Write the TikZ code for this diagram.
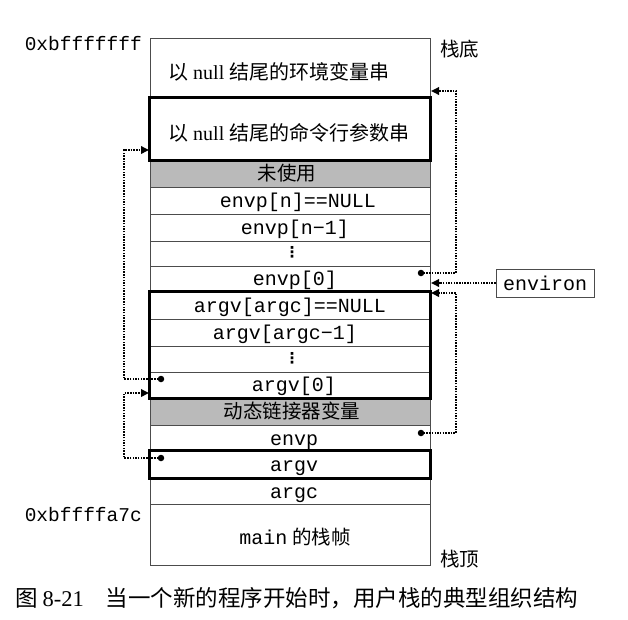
\documentclass[tikz,border=0pt]{standalone}
\usepackage{fontspec}
\setmainfont{Liberation Serif}
\setmonofont{Liberation Mono}
\newfontfamily\cjk{Noto Sans CJK SC}
\newfontfamily\dejavu{DejaVu Sans}
\usetikzlibrary{arrows.meta}
\definecolor{cellgray}{gray}{0.73}
\definecolor{linegray}{gray}{0.3}
\tikzset{
  rowbox/.style={rectangle, draw=linegray, line width=0.8pt, minimum width=280pt, inner sep=0pt},
  grayrow/.style={rowbox, fill=cellgray},
  thickframe/.style={draw=black, line width=2.8pt},
  mono/.style={anchor=base, inner sep=0pt, font=\fontsize{20}{22}\selectfont\ttfamily},
  cjktext/.style={anchor=base, inner sep=0pt, font=\fontsize{19.5}{22}\selectfont\cjk},
  mixtext/.style={anchor=base west, inner sep=0pt, font=\fontsize{20}{22}\selectfont},
  vdotsnode/.style={anchor=center, inner sep=0pt, font=\fontsize{15}{15}\selectfont\dejavu\bfseries},
  addr/.style={anchor=base east, inner sep=0pt, font=\fontsize{19.5}{22}\selectfont\ttfamily},
  sidelabel/.style={anchor=base west, inner sep=0pt, font=\fontsize{19.5}{22}\selectfont\cjk},
  conn/.style={draw=black, line width=1.8pt, dash pattern=on 1.5pt off 1.2pt, -{Triangle[length=8pt,width=7.5pt]}},
  dotn/.style={circle, fill=black, inner sep=0pt, minimum size=6.5pt},
}
\begin{document}
\begin{tikzpicture}[x=1pt,y=-1pt]
\useasboundingbox (0,0) rectangle (628,619);
\fill[white] (0,0) rectangle (628,619);

% stack rows
\node[rowbox, minimum height=60pt] (envstr) at (290,68) {};
\node[rowbox, minimum height=62pt] (argstr) at (290,129) {};
\node[grayrow, minimum height=27pt] (unused) at (290,173.5) {};
\node[rowbox, minimum height=27pt] (envpn) at (290,200.5) {};
\node[rowbox, minimum height=27pt] (envpn1) at (290,227.5) {};
\node[rowbox, minimum height=25pt] (edots) at (290,253.5) {};
\node[rowbox, minimum height=26pt] (envp0) at (290,279) {};
\node[rowbox, minimum height=27pt] (argvnull) at (290,305.5) {};
\node[rowbox, minimum height=27pt] (argvm1) at (290,332.5) {};
\node[rowbox, minimum height=26pt] (adots) at (290,359) {};
\node[rowbox, minimum height=26pt] (argv0) at (290,385) {};
\node[grayrow, minimum height=27pt] (dyn) at (290,411.5) {};
\node[rowbox, minimum height=26pt] (envpr) at (290,438) {};
\node[rowbox, minimum height=27pt] (argvr) at (290,464.5) {};
\node[rowbox, minimum height=26pt] (argcr) at (290,491) {};
\node[rowbox, minimum height=61pt] (mainr) at (290,534.5) {};

% thick frames
\draw[thickframe] (argstr.north west) rectangle (argstr.south east);
\draw[thickframe] (argvnull.north west) rectangle (argv0.south east);
\draw[thickframe] (argvr.north west) rectangle (argvr.south east);

% row texts
\node[mixtext] (tenvstr) at (168,79) {{\cjk 以} null {\cjk 结尾的环境变量串}};
\node[mixtext] (targstr) at (168,140) {{\cjk 以} null {\cjk 结尾的命令行参数串}};
\node[cjktext] (tunused) at (287,180.5) {未使用};
\node[mono] (tenvpn) at (298,207) {envp[n]==NULL};
\node[mono] (tenvpn1) at (295,234) {envp[n−1]};
\node[vdotsnode] (tedots) at (292,252) {⋮};
\node[mono] (tenvp0) at (295,285.5) {envp[0]};
\node[mono] (targvnull) at (290,312) {argv[argc]==NULL};
\node[mono] (targvm1) at (285,339) {argv[argc−1]};
\node[vdotsnode] (tadots) at (292,358) {⋮};
\node[mono] (targv0) at (294,391.5) {argv[0]};
\node[cjktext] (tdyn) at (292,418.5) {动态链接器变量};
\node[mono] (tenvp) at (294,445) {envp};
\node[mono] (targv) at (294,471.5) {argv};
\node[mono] (targc) at (294,498) {argc};
\node[anchor=base, inner sep=0pt, font=\fontsize{20}{22}\selectfont] (tmain) at (295,544) {\texttt{main} {\cjk\fontsize{19.5}{22}\selectfont 的栈帧}};

% addresses and side labels
\node[addr] (addrtop) at (142,50) {0xbfffffff};
\node[addr] (addrbot) at (142,521) {0xbffffa7c};
\node[sidelabel] (bottomlbl) at (440,56) {栈底};
\node[sidelabel] (toplbl) at (440,566) {栈顶};

% environ box
\node[rectangle, draw=linegray, line width=0.8pt, minimum width=98pt, minimum height=28pt, inner sep=0pt,
      font=\fontsize{20}{22}\selectfont\ttfamily] (env) at (545,283) {environ};

% dots
\node[dotn] (d1) at (421,273) {};
\node[dotn] (d2) at (421,433) {};
\node[dotn] (d3) at (161,379) {};
\node[dotn] (d4) at (161,458) {};

% arrow targets
\coordinate (a1) at (431,91);
\coordinate (a2) at (431,283);
\coordinate (a3) at (431,293);
\coordinate (a4) at (149,150);
\coordinate (a5) at (149,393);

% connectors
\draw[conn] (d1.center) -- (456,273) |- (a1);
\draw[conn] (env.west) -- (a2);
\draw[conn] (d2.center) -- (456,433) |- (a3);
\draw[conn] (d3.center) -- (124,379) |- (a4);
\draw[conn] (d4.center) -- (124,458) |- (a5);

% caption
\node[anchor=base west, inner sep=0pt, font=\fontsize{22.5}{24}\selectfont] (caption) at (15,606)
  {{\cjk 图}\hspace{5pt}8-21\hspace{22pt}{\cjk 当一个新的程序开始时，用户栈的典型组织结构}};
\end{tikzpicture}
\end{document}
